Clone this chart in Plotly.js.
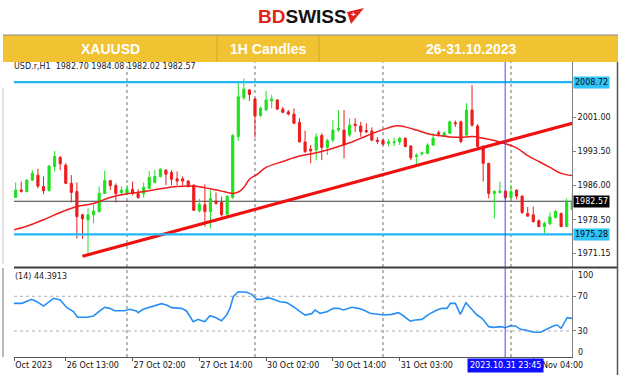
<!DOCTYPE html>
<html><head><meta charset="utf-8">
<script src="https://cdn.plot.ly/plotly-3.0.1.min.js"></script>
<style>html,body{margin:0;padding:0;background:#fff;overflow:hidden}#chart{width:624px;height:375px}</style>
</head><body><div id="chart"></div>
<script>
// ---- data (XAUUSD H1) ----
const opens  = [1983.4,1985.05,1984.7,1987.2,1988.3,1985.8,1984.9,1990.2,1992.2,1990.5,1986.5,1984.7,1979.6,1978.5,1979.6,1980.3,1984.3,1987.1,1986.0,1984.5,1984.3,1985.2,1984.3,1984.2,1985.4,1986.7,1988.0,1989.4,1988.9,1987.5,1987.5,1987.0,1986.1,1980.5,1981.8,1980.3,1982.6,1982.3,1979.7,1983.4,1996.8,2005.3,2007.0,2005.0,2001.4,2002.6,2004.6,2004.8,2002.8,2002.2,2001.7,1999.9,1995.6,1994.0,1993.8,1997.0,1994.4,1996.0,1998.2,1998.2,1997.1,1999.5,1999.1,1998.1,1998.0,1996.0,1995.9,1995.3,1995.4,1995.6,1996.4,1994.7,1992.4,1993.0,1993.1,1994.9,1997.6,1996.9,1997.5,1999.8,2000.0,1997.1,2002.6,1999.1,1994.6,1990.9,1984.3,1984.5,1984.8,1983.4,1985.0,1983.7,1979.9,1979.6,1978.3,1977.0,1977.6,1979.0,1979.9,1977.0,1980.8];
const highs  = [1986.7,1986.9,1987.4,1989.4,1989.7,1988.0,1990.5,1993.6,1992.5,1990.9,1988.3,1986.7,1979.8,1981.0,1981.8,1985.8,1989.3,1987.2,1986.5,1985.8,1986.1,1986.9,1985.2,1986.7,1989.2,1989.4,1989.9,1989.6,1989.4,1989.1,1988.0,1987.2,1986.3,1983.1,1986.3,1985.0,1984.5,1983.6,1984.0,1997.3,2008.8,2009.5,2007.2,2005.3,2003.3,2006.8,2005.9,2005.0,2003.3,2002.6,2003.0,2000.8,1998.1,1994.9,1997.5,1997.5,1996.3,2000.4,2002.6,2002.6,2000.8,2000.8,2000.0,1999.7,1998.8,1996.7,1996.2,1996.2,1996.5,1996.7,1996.6,1994.9,1993.1,1993.5,1995.3,1997.5,1998.1,1997.8,2000.3,2000.3,2000.3,2004.1,2008.1,1999.5,1994.9,1991.0,1985.0,1986.9,1985.0,1986.2,1985.2,1983.9,1981.3,1981.4,1978.6,1978.1,1980.1,1980.7,1980.1,1983.2,1984.08];
const lows   = [1983.4,1984.5,1984.5,1987.1,1985.4,1984.1,1984.7,1989.1,1989.4,1986.3,1982.3,1974.4,1974.3,1971.2,1977.7,1980.1,1984.1,1985.0,1982.3,1983.9,1983.9,1983.9,1983.1,1983.4,1985.3,1986.5,1987.8,1986.1,1986.1,1986.1,1986.0,1985.6,1980.5,1980.1,1977.0,1976.6,1981.8,1979.2,1979.0,1983.1,1995.8,2004.8,2004.6,1996.6,2001.1,2002.4,2003.0,2002.6,2001.9,2001.4,1999.5,1995.5,1993.1,1990.9,1991.6,1991.6,1992.7,1995.5,1997.8,1992.0,1996.7,1997.8,1996.7,1997.5,1995.7,1995.1,1994.9,1994.6,1994.7,1994.9,1994.4,1991.6,1990.5,1992.6,1992.9,1994.8,1996.8,1996.8,1997.3,1998.9,1995.3,1996.8,1998.9,1994.2,1986.9,1983.2,1978.8,1984.3,1982.9,1983.0,1983.0,1979.8,1979.2,1977.9,1976.9,1975.5,1977.4,1978.8,1976.9,1976.9,1980.5];
const closes = [1985.0,1984.75,1987.2,1988.7,1985.9,1984.9,1990.3,1992.4,1990.8,1986.5,1984.5,1979.2,1978.7,1979.6,1980.4,1984.3,1987.1,1986.0,1984.3,1985.0,1985.2,1984.3,1983.4,1985.6,1987.8,1988.0,1989.6,1988.5,1987.4,1987.0,1987.0,1985.8,1980.6,1981.9,1980.3,1983.2,1982.1,1979.6,1983.6,1997.0,2005.5,2007.2,2006.0,2001.3,2003.0,2004.8,2005.0,2002.8,2002.1,2001.7,1999.7,1995.6,1993.5,1993.6,1996.7,1994.4,1995.9,1998.2,1998.6,1994.9,1999.3,1999.2,1997.8,1997.8,1996.0,1995.7,1995.1,1995.6,1995.6,1996.4,1994.6,1992.1,1992.7,1993.2,1994.9,1996.4,1997.3,1997.6,2000.0,1999.6,1995.7,2002.6,1999.3,1994.6,1990.9,1984.3,1984.7,1984.8,1983.4,1984.7,1983.7,1980.1,1979.3,1978.1,1977.0,1977.7,1979.1,1980.3,1977.0,1982.3,1982.57];
const barIdx = opens.map((_, k) => k);

const maX = [-0.4,2,5,8,11,14,17,20,23,26,29,32,35,37,39,40,41,42,43.5,45,48,51,54,57,60,63,66,68.5,70,72,74,76,78,80,82,84,86,88,90,92,94,96,98,100.2];
const maY = [1976.3,1977.1,1978.5,1980.1,1981.4,1982.1,1983.4,1984.2,1984.7,1985.3,1985.8,1985.9,1985.3,1984.8,1984.3,1984.6,1985.6,1987.4,1988.6,1990.0,1991.3,1992.5,1993.2,1994.2,1995.4,1996.9,1998.3,1999.15,1998.9,1998.2,1997.4,1997.0,1996.7,1996.6,1996.8,1996.4,1995.9,1995.2,1994.3,1992.6,1991.3,1990.0,1988.7,1988.2];

const trendX = [12, 100];
const trendY = [1970.5, 1999.7];

const rsiX = [-0.3,1.1,2.9,3.8,5.0,5.9,6.8,8.0,9.2,10.4,11.1,12.8,14.0,15.1,16.0,16.9,17.8,19.6,20.5,21.7,22.0,22.9,24.7,26.2,27.1,28.0,29.8,30.7,31.9,32.8,33.4,34.0,34.9,35.8,37.0,37.9,38.5,39.1,40.0,41.5,42.4,43.3,44.2,45.4,46.3,47.5,48.7,49.9,51.1,52.0,53.2,53.8,54.7,55.9,57.1,58.0,58.9,60.4,61.6,62.5,63.7,65.2,66.1,67.6,68.8,69.7,70.9,71.8,73.0,74.2,75.7,76.6,77.5,78.1,79.0,79.9,80.9,81.7,82.9,83.8,85.0,85.9,87.1,88.0,88.9,89.8,90.7,91.6,93.1,94.3,95.2,96.7,97.3,98.0,99.1,100.1];
const rsiY = [61.9,61.9,66.5,63.8,58.8,63.8,67.7,65.7,56.9,52.3,45.8,45.8,47.3,53.1,57.3,56.1,53.4,53.4,55.0,53.1,51.1,55.0,58.8,61.5,60.0,56.9,56.1,53.1,40.8,43.4,41.9,40.8,47.7,45.8,41.9,48.4,56.1,69.6,75.3,74.6,72.3,66.5,66.5,68.4,66.5,63.8,62.7,58.0,52.3,48.4,50.0,54.2,50.4,52.3,56.1,56.1,54.2,57.3,56.1,54.2,50.4,49.6,48.4,49.2,51.1,47.3,41.5,42.7,43.4,49.2,54.2,56.1,56.1,61.9,61.9,49.2,62.7,56.9,48.4,44.6,35.0,34.2,35.0,33.8,36.1,35.8,31.9,31.2,28.5,28.5,31.2,36.1,36.9,33.1,45.4,44.4];

const xTickVals = [-0.25, 9, 21, 33, 45, 57, 69, 93];
const xTickText = ['Oct 2023','26 Oct 13:00','27 Oct 02:00','27 Oct 14:00','30 Oct 02:00','30 Oct 14:00','31 Oct 03:00','1 Nov 04:00'];
const priceTickVals = [2001.0, 1993.5, 1986.0, 1978.5, 1971.15];
const priceTickText = ['2001.00','1993.50','1986.00','1978.50','1971.15'];
const rsiTickVals = [70, 30];
const rsiTickText = ['70', '30'];
const rsiEdgeLabels = ['100', '0'];

const daySeparators = [20, 43, 66, 89];
const cursorIdx = 87.95;
const cursorText = '2023.10.31 23:45';
const blueLevels = [2008.72, 1975.28];
const blueLevelText = ['2008.72', '1975.28'];
const lastPrice = 1982.57;
const lastPriceText = '1982.57';
const rsiLevels = [70, 30];

const headerTitle = 'USD.r,H1  1982.70 1984.08 1982.02 1982.57';
const rsiTitle = '(14) 44.3913';
const bannerTexts = ['XAUUSD', '1H Candles', '26-31.10.2023'];

// ---- pixel helpers for decorations (plot area 14..572 x 60..357) ----
const PX = p => (p - 14) / 558;
const PY = p => (357 - p) / 297;

const GREEN = '#1fe01f', RED = '#ee1c1c';
const tf = {family: 'DejaVu Sans', size: 8, color: '#111'};

const traces = [
  {type: 'candlestick', x: barIdx, open: opens, high: highs, low: lows, close: closes,
   xaxis: 'x', yaxis: 'y', whiskerwidth: 0, hoverinfo: 'skip',
   increasing: {line: {color: GREEN, width: 1}, fillcolor: GREEN},
   decreasing: {line: {color: RED, width: 1}, fillcolor: RED}},
  {type: 'scatter', mode: 'lines', x: maX, y: maY, xaxis: 'x', yaxis: 'y',
   line: {color: '#f21a1a', width: 1.5, shape: 'spline'}, hoverinfo: 'skip'},
  {type: 'scatter', mode: 'lines', x: trendX, y: trendY, xaxis: 'x', yaxis: 'y',
   line: {color: '#f01010', width: 3.2}, hoverinfo: 'skip'},
  {type: 'scatter', mode: 'lines', x: rsiX, y: rsiY, xaxis: 'x', yaxis: 'y2',
   line: {color: '#2a8ff5', width: 1.6}, hoverinfo: 'skip'}
];

const shapes = [];
daySeparators.forEach(d => shapes.push({type: 'line', xref: 'x', yref: 'paper', x0: d, x1: d, y0: 0, y1: 1,
  line: {color: '#707070', width: 1, dash: 'dot'}, layer: 'below'}));
rsiLevels.forEach(v => shapes.push({type: 'line', xref: 'paper', yref: 'y2', x0: 0, x1: 1, y0: v, y1: v,
  line: {color: '#b0b0b0', width: 1, dash: 'dot'}, layer: 'below'}));
blueLevels.forEach(v => shapes.push({type: 'line', xref: 'paper', yref: 'y', x0: 0, x1: 1, y0: v, y1: v,
  line: {color: '#22b8f5', width: 2.2}, layer: 'above'}));
shapes.push({type: 'line', xref: 'paper', yref: 'y', x0: 0, x1: 1, y0: lastPrice, y1: lastPrice,
  line: {color: '#3a3a3a', width: 1}, layer: 'below'});
shapes.push({type: 'line', xref: 'x', yref: 'paper', x0: cursorIdx, x1: cursorIdx, y0: 0, y1: 1,
  line: {color: '#4a4aff', width: 1}, layer: 'above'});
// panel separator
shapes.push({type: 'line', xref: 'paper', yref: 'paper', x0: 0, x1: PX(617), y0: PY(267.5), y1: PY(267.5),
  line: {color: '#3c3c3c', width: 2}});
// frame lines
shapes.push({type: 'line', xref: 'paper', yref: 'paper', x0: PX(617.5), x1: PX(617.5), y0: PY(62), y1: PY(375),
  line: {color: '#555', width: 1.5}});
shapes.push({type: 'line', xref: 'paper', yref: 'paper', x0: PX(3), x1: PX(3), y0: PY(88), y1: PY(264),
  line: {color: '#c8c8c8', width: 1}});
shapes.push({type: 'line', xref: 'paper', yref: 'paper', x0: PX(3), x1: PX(3), y0: PY(268), y1: PY(357),
  line: {color: '#777', width: 1}});
// banner
shapes.push({type: 'rect', xref: 'paper', yref: 'paper', x0: PX(3), x1: PX(618), y0: PY(62), y1: PY(35),
  fillcolor: '#f1c232', line: {width: 0}, layer: 'above'});
shapes.push({type: 'line', xref: 'paper', yref: 'paper', x0: PX(3), x1: PX(618), y0: PY(35), y1: PY(35),
  line: {color: '#8c8c8c', width: 1}, layer: 'above'});
[217, 319].forEach(p => shapes.push({type: 'line', xref: 'paper', yref: 'paper', x0: PX(p), x1: PX(p), y0: PY(62), y1: PY(35),
  line: {color: '#d9a62a', width: 1}, layer: 'above'}));
// logo flag
shapes.push({type: 'path', xref: 'paper', yref: 'paper',
  path: `M ${PX(347)},${PY(12)} L ${PX(364)},${PY(8)} L ${PX(351)},${PY(24)} Z`,
  fillcolor: '#e2231a', line: {width: 0}});

const annotations = [];
annotations.push({xref: 'paper', yref: 'paper', x: PX(303), y: PY(16.5), xanchor: 'center', yanchor: 'middle', showarrow: false,
  text: '<b><span style="color:#e2231a">BD</span>SWISS</b>', font: {family: 'Liberation Sans', size: 19, color: '#141414'}});
annotations.push({xref: 'paper', yref: 'paper', x: PX(353), y: PY(15), xanchor: 'center', yanchor: 'middle', showarrow: false,
  text: '<b>+</b>', font: {family: 'Liberation Sans', size: 8, color: '#fff'}});
[110, 268, 471].forEach((p, k) => annotations.push({xref: 'paper', yref: 'paper', x: PX(p), y: PY(48.5),
  xanchor: 'center', yanchor: 'middle', showarrow: false, text: '<b>' + bannerTexts[k] + '</b>',
  font: {family: 'Liberation Sans', size: 14, color: '#ffffff'}}));
annotations.push({xref: 'paper', yref: 'paper', x: PX(12), y: PY(66.5), xanchor: 'left', yanchor: 'middle', showarrow: false,
  text: headerTitle, font: {family: 'DejaVu Sans', size: 8, color: '#222'}});
annotations.push({xref: 'paper', yref: 'paper', x: PX(13), y: PY(276.5), xanchor: 'left', yanchor: 'middle', showarrow: false,
  text: rsiTitle, font: {family: 'DejaVu Sans', size: 8, color: '#222'}});
blueLevels.forEach((v, k) => annotations.push({xref: 'paper', yref: 'y', x: PX(573), y: v, xanchor: 'left', yanchor: 'middle',
  showarrow: false, text: blueLevelText[k], bgcolor: '#2ec4f7', borderpad: 1,
  font: {family: 'DejaVu Sans', size: 8, color: '#0a0a0a'}}));
annotations.push({xref: 'paper', yref: 'y', x: PX(573), y: lastPrice, xanchor: 'left', yanchor: 'middle',
  showarrow: false, text: lastPriceText, bgcolor: '#000000', borderpad: 1,
  font: {family: 'DejaVu Sans', size: 8, color: '#ffffff'}});
[275, 352].forEach((p, k) => annotations.push({xref: 'paper', yref: 'paper', x: PX(576), y: PY(p), xanchor: 'left', yanchor: 'middle',
  showarrow: false, text: rsiEdgeLabels[k], font: tf}));
annotations.push({xref: 'x', yref: 'paper', x: cursorIdx, y: PY(365.5), xanchor: 'center', yanchor: 'middle',
  showarrow: false, text: cursorText, bgcolor: '#1010ff', borderpad: 2,
  font: {family: 'DejaVu Sans', size: 8, color: '#ffffff'}});

const layout = {
  width: 624, height: 375,
  margin: {l: 14, r: 52, t: 60, b: 18, pad: 0},
  paper_bgcolor: '#ffffff', plot_bgcolor: '#ffffff',
  showlegend: false, boxgap: 0.45, hovermode: false,
  xaxis: {range: [-0.3, 99.96], anchor: 'y2', showgrid: false, zeroline: false,
    showline: true, linecolor: '#555', linewidth: 1, ticks: 'outside', ticklen: 3, tickcolor: '#555',
    tickvals: xTickVals, ticktext: xTickText, ticklabelposition: 'outside right', tickangle: 0,
    tickfont: tf, rangeslider: {visible: false}, fixedrange: true},
  yaxis: {domain: [PY(267), 1], range: [1968.14, 2013.58], side: 'right', anchor: 'x',
    showgrid: false, zeroline: false, showline: true, linecolor: '#808080', linewidth: 1,
    ticks: 'outside', ticklen: 3, tickcolor: '#808080',
    tickvals: priceTickVals, ticktext: priceTickText, tickfont: tf, fixedrange: true},
  yaxis2: {domain: [0, PY(270.3)], range: [0, 100], side: 'right', anchor: 'x',
    showgrid: false, zeroline: false, showline: true, linecolor: '#808080', linewidth: 1,
    ticks: 'outside', ticklen: 3, tickcolor: '#808080',
    tickvals: rsiTickVals, ticktext: rsiTickText, tickfont: tf, fixedrange: true},
  shapes: shapes, annotations: annotations
};

Plotly.newPlot('chart', traces, layout, {staticPlot: true, displayModeBar: false});
</script>
</body></html>
